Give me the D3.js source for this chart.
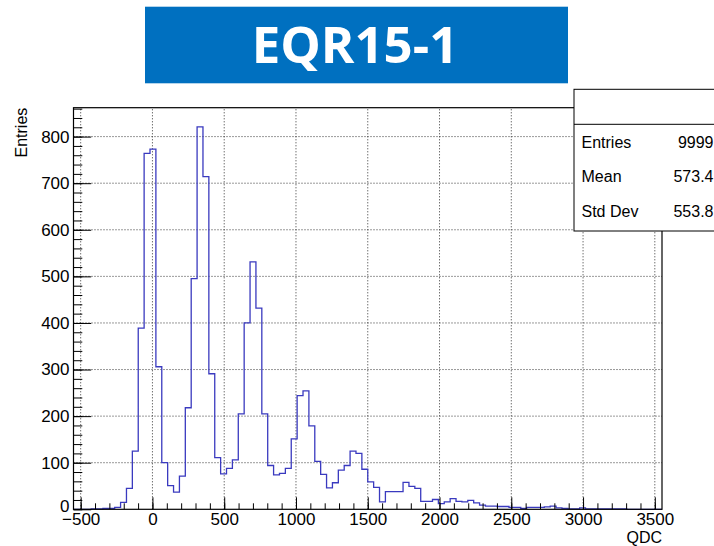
<!DOCTYPE html>
<html>
<head>
<meta charset="utf-8">
<script src="https://cdn.jsdelivr.net/npm/d3@7"></script>
<style>
  html, body { margin: 0; padding: 0; background: #fff; }
  svg { display: block; }
  .tick text { font-family: "Liberation Sans", Arial, Helvetica, sans-serif; }
</style>
</head>
<body>
<svg id="chart" width="714" height="546"></svg>
<script>
// QDC spectrum: 100 bins of width 41 starting at -550
const histTitle = "EQR15-1";
const binStart = -550;
const binWidth = 41;
const counts = [
  0, 0, 0, 1, 1, 2, 2, 4, 15, 45,
  125, 389, 764, 773, 306, 100, 51, 37, 71, 218,
  495, 821, 714, 291, 111, 76, 88, 106, 205, 400,
  531, 432, 205, 94, 74, 77, 88, 151, 244, 254,
  179, 103, 75, 46, 57, 84, 94, 125, 120, 86,
  59, 47, 16, 38, 38, 38, 58, 49, 45, 17,
  17, 21, 12, 16, 23, 17, 16, 19, 14, 9,
  7, 7, 6, 6, 4, 4, 2, 4, 4, 4,
  5, 7, 3, 2, 1, 1, 3, 1, 1, 1,
  1, 1, 1, 1, 0, 0, 0, 0, 0, 0
];
const xMajorTicks = [-500, 0, 500, 1000, 1500, 2000, 2500, 3000, 3500];
const yMajorTicks = [0, 100, 200, 300, 400, 500, 600, 700, 800];
const xTitle = "QDC";
const yTitle = "Entries";
const statNames = ["Entries", "Mean", "Std Dev"];
const statValues = ["9999", "573.4", "553.8"];

const svg = d3.select("#chart");
const font = '"Liberation Sans", Arial, Helvetica, sans-serif';

const frame = { left: 73.5, right: 662, top: 107.7, bottom: 509.3 };
const xMax = binStart + binWidth * counts.length;
const x = d3.scaleLinear().domain([binStart, xMax]).range([frame.left, frame.right]);
const yTop = d3.max(counts) * 1.05;
const y = d3.scaleLinear().domain([0, yTop]).range([frame.bottom, frame.top]);

// title banner
svg.append("rect")
  .attr("x", 145).attr("y", 6.7).attr("width", 423).attr("height", 76.6)
  .attr("fill", "#0070c0");
svg.append("text")
  .attr("x", 355).attr("y", 63)
  .attr("text-anchor", "middle")
  .attr("font-family", '"Open Sans", "Noto Sans", sans-serif')
  .attr("font-weight", 700)
  .attr("font-size", 51)
  .attr("fill", "#fff")
  .text(histTitle);

// dotted grid
const grid = svg.append("g")
  .attr("stroke", "#333").attr("stroke-width", 1)
  .attr("stroke-dasharray", "1,2");
grid.selectAll("line.vx").data(xMajorTicks).join("line")
  .attr("x1", d => x(d)).attr("x2", d => x(d))
  .attr("y1", frame.bottom).attr("y2", frame.top);
grid.selectAll("line.hy").data(yMajorTicks.filter(d => d > 0)).join("line")
  .attr("x1", frame.left).attr("x2", frame.right)
  .attr("y1", d => y(d)).attr("y2", d => y(d));

// histogram outline
const steps = counts.map((c, i) => ({ e: binStart + i * binWidth, c }));
steps.push({ e: xMax, c: 0 });
svg.append("path")
  .datum(steps)
  .attr("fill", "none")
  .attr("stroke", "#3a3abf")
  .attr("stroke-width", 1.3)
  .attr("d", d3.line().x(d => x(d.e)).y(d => y(d.c)).curve(d3.curveStepAfter));

// axes: ticks point into the frame
const xMinor = d3.range(-500, 3501, 100);
svg.append("g")
  .attr("transform", `translate(0,${frame.bottom})`)
  .call(d3.axisBottom(x).tickValues(xMinor).tickSize(-6).tickFormat(""))
  .call(g => g.select(".domain").remove())
  .call(g => g.selectAll("line").attr("stroke", "#000"));
svg.append("g")
  .attr("transform", `translate(0,${frame.bottom})`)
  .call(d3.axisBottom(x).tickValues(xMajorTicks).tickSize(-12).tickPadding(4)
    .tickFormat(d => (d < 0 ? "\u2212" : "") + Math.abs(d)))
  .call(g => g.select(".domain").remove())
  .call(g => g.selectAll("line").attr("stroke", "#000"))
  .call(g => g.selectAll("text").attr("font-size", 17).attr("fill", "#000"));

const yMinor = d3.range(0, yTop, 20);
svg.append("g")
  .attr("transform", `translate(${frame.left},0)`)
  .call(d3.axisLeft(y).tickValues(yMinor).tickSize(-8.8).tickFormat(""))
  .call(g => g.select(".domain").remove())
  .call(g => g.selectAll("line").attr("stroke", "#000"));
svg.append("g")
  .attr("transform", `translate(${frame.left},0)`)
  .call(d3.axisLeft(y).tickValues(yMajorTicks).tickSize(-17.7).tickPadding(4))
  .call(g => g.select(".domain").remove())
  .call(g => g.selectAll("line").attr("stroke", "#000"))
  .call(g => g.selectAll("text").attr("font-size", 17).attr("fill", "#000"))
  // lift the zero label a touch so it clears the first x label
  .call(g => g.selectAll(".tick text").filter(d => d === 0).attr("dy", "0.1em"));

// frame
svg.append("rect")
  .attr("x", frame.left).attr("y", frame.top)
  .attr("width", frame.right - frame.left).attr("height", frame.bottom - frame.top)
  .attr("fill", "none").attr("stroke", "#000").attr("stroke-width", 1.2);

// axis titles
svg.append("text")
  .attr("x", frame.right).attr("y", 543)
  .attr("text-anchor", "end")
  .attr("font-family", font).attr("font-size", 16)
  .text(xTitle);
svg.append("text")
  .attr("transform", `translate(26.5,${frame.top}) rotate(-90)`)
  .attr("text-anchor", "end")
  .attr("font-family", font).attr("font-size", 16)
  .text(yTitle);

// statistics box
const stats = svg.append("g");
stats.append("rect")
  .attr("x", 574).attr("y", 89.3).attr("width", 200).attr("height", 141.7)
  .attr("fill", "#fff").attr("stroke", "#000").attr("stroke-width", 1);
stats.append("line")
  .attr("x1", 574).attr("x2", 714).attr("y1", 124.3).attr("y2", 124.3)
  .attr("stroke", "#000").attr("stroke-width", 1);
const rowY = [147.5, 181.5, 217];
stats.selectAll("text.n").data(statNames).join("text")
  .attr("x", 581.5).attr("y", (d, i) => rowY[i])
  .attr("font-family", font).attr("font-size", 16)
  .text(d => d);
stats.selectAll("text.v").data(statValues).join("text")
  .attr("x", 713.5).attr("y", (d, i) => rowY[i])
  .attr("text-anchor", "end")
  .attr("font-family", font).attr("font-size", 16)
  .text(d => d);
</script>
</body>
</html>
